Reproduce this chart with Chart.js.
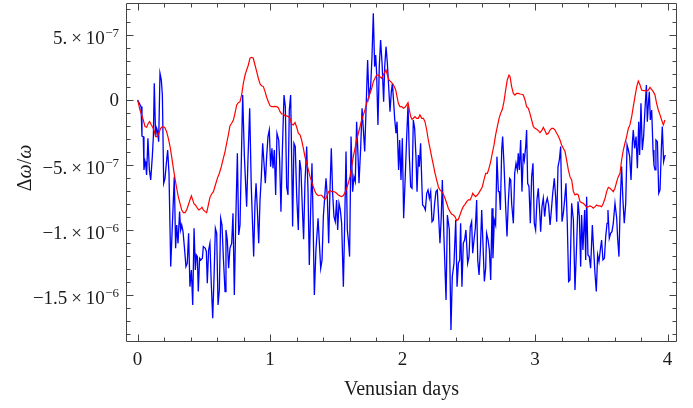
<!DOCTYPE html>
<html lang="en">
<head>
<meta charset="UTF-8">
<title>Frequency shift over Venusian days</title>
<style>
body { margin: 0; background: #fff; }
#wrap { width: 693px; height: 408px; }
</style>
</head>
<body>
<div id="wrap"><canvas id="chart" width="693" height="408"></canvas></div>
<script src="https://cdn.jsdelivr.net/npm/chart.js"></script>
<script>
// values are in units of 1e-7, x in Venusian days
const blueSeries = [
  [0,0],[0.026,-0.51],[0.033,-2.77],[0.043,-2.82],[0.048,-5.38],[0.056,-4.74],[0.063,-5.13],[0.068,-5.77],[0.078,-2.95],[0.089,-5.38],
  [0.099,-6.15],[0.111,-4.36],[0.119,-2.82],[0.126,1.28],[0.136,-2.82],[0.144,-2.18],[0.151,-2.44],[0.159,-3.21],[0.169,2.05],[0.179,1.54],
  [0.187,0.38],[0.197,-6.41],[0.207,-6.03],[0.217,-4.87],[0.227,-3.85],[0.237,-5.64],[0.250,-12.82],[0.265,-8.97],[0.277,-5.90],[0.287,-11.41],
  [0.295,-9.62],[0.305,-11.03],[0.317,-8.59],[0.325,-10.0],[0.333,-9.62],[0.343,-10.13],[0.355,-11.54],[0.365,-12.82],[0.375,-12.56],[0.385,-10.26],
  [0.395,-14.36],[0.406,-13.08],[0.416,-15.77],[0.426,-9.87],[0.436,-13.08],[0.443,-11.92],[0.451,-12.05],[0.458,-14.74],[0.468,-12.18],[0.478,-12.31],
  [0.489,-12.18],[0.496,-11.28],[0.511,-11.41],[0.519,-11.67],[0.526,-14.10],[0.536,-11.54],[0.546,-11.03],[0.556,-14.10],[0.567,-16.79],[0.577,-13.59],
  [0.587,-9.87],[0.597,-10.26],[0.607,-15.77],[0.617,-14.62],[0.627,-9.10],[0.637,-9.62],[0.647,-12.05],[0.660,-14.74],[0.667,-10.0],[0.677,-10.77],
  [0.687,-12.95],[0.697,-11.41],[0.710,-11.03],[0.720,-8.72],[0.730,-15.0],[0.740,-9.74],[0.753,-4.10],[0.763,-10.38],[0.773,-9.62],
  [0.793,0.38],[0.806,-4.36],[0.823,-8.21],[0.833,-4.62],[0.846,-0.64],[0.858,-6.67],[0.876,-12.05],[0.886,-7.95],[0.894,-6.41],[0.904,-8.46],
  [0.914,-11.03],[0.924,-7.69],[0.934,-5.90],[0.944,-3.33],[0.954,-4.87],[0.964,-6.41],[0.974,-4.36],[0.984,-2.82],[0.994,-2.31],[1.004,-5.13],
  [1.014,-3.72],[1.022,-5.26],[1.032,-3.85],[1.042,-7.31],[1.052,-2.56],[1.065,-3.08],[1.072,-4.62],[1.082,-8.59],[1.092,-4.10],[1.105,0.38],
  [1.115,-0.51],[1.125,-6.67],[1.135,-7.31],[1.145,-0.77],[1.155,0.38],[1.163,-4.62],[1.170,-9.74],[1.180,-3.33],[1.190,-3.59],[1.201,-7.44],
  [1.213,-10.0],[1.223,-4.62],[1.233,-5.38],[1.243,-8.21],[1.253,-10.72],[1.263,-6.41],[1.276,-3.59],[1.286,-6.92],[1.296,-12.69],[1.306,-8.46],
  [1.316,-4.87],[1.324,-8.97],[1.334,-15.0],[1.346,-11.54],[1.362,-9.10],[1.372,-11.03],[1.382,-12.95],[1.392,-12.31],[1.402,-8.97],[1.422,-6.03],
  [1.432,-7.44],[1.442,-11.03],[1.452,-6.92],[1.462,-3.72],[1.472,-7.18],[1.482,-8.97],[1.492,-9.36],[1.502,-7.69],[1.510,-10.0],[1.520,-7.95],
  [1.530,-8.46],[1.540,-9.49],[1.553,-14.36],[1.563,-9.49],[1.573,-3.97],[1.583,-10.0],[1.593,-11.03],[1.600,-12.05],
  [1.611,-2.82],[1.623,-7.05],[1.633,-5.90],[1.643,-6.28],[1.653,-1.67],[1.663,-4.10],[1.671,-6.41],[1.684,-3.59],[1.694,-0.64],[1.704,-2.31],
  [1.714,-3.97],[1.724,-0.77],[1.736,3.08],[1.746,0.26],[1.759,1.03],[1.769,3.33],[1.779,6.67],[1.789,2.56],[1.797,3.46],[1.804,2.05],
  [1.814,-1.92],[1.824,2.56],[1.834,4.62],[1.845,2.82],[1.857,-0.13],[1.865,2.56],[1.875,4.10],[1.885,2.82],[1.895,1.03],[1.905,-0.90],
  [1.915,0.64],[1.923,1.28],[1.933,-0.26],[1.940,-1.41],[1.950,-2.56],[1.958,-1.67],[1.970,-5.38],[1.978,-3.08],[1.988,-6.15],[1.998,-2.95],
  [2.008,-9.10],[2.021,-5.64],[2.031,-2.82],[2.041,-0.38],[2.051,-4.36],[2.061,-6.67],[2.071,-6.79],[2.081,-1.54],[2.091,-2.18],[2.101,-4.36],
  [2.109,-7.05],[2.119,-4.23],[2.126,-5.13],[2.136,-3.33],[2.146,-6.67],[2.151,-8.08],[2.162,-8.21],[2.172,-8.46],[2.182,-7.18],[2.192,-6.92],
  [2.202,-7.56],[2.212,-7.05],[2.222,-9.36],[2.232,-9.23],[2.242,-7.95],[2.252,-7.05],[2.262,-6.92],[2.272,-8.97],[2.282,-11.03],[2.292,-8.97],
  [2.300,-6.15],[2.312,-10.51],[2.328,-15.38],[2.338,-8.85],[2.353,-10.0],[2.365,-17.69],[2.375,-13.59],[2.388,-12.56],[2.401,-9.23],[2.411,-14.36],
  [2.421,-12.56],[2.431,-12.31],[2.438,-9.49],[2.448,-14.36],[2.458,-11.03],[2.468,-10.77],[2.478,-10.0],[2.491,-12.56],[2.501,-12.05],[2.511,-9.74],
  [2.521,-9.36],[2.529,-11.79],[2.539,-10.77],[2.549,-9.87],[2.559,-7.69],[2.567,-12.31],[2.577,-13.46],[2.587,-11.54],[2.597,-8.46],[2.607,-11.15],
  [2.617,-13.97],[2.627,-12.95],[2.634,-10.26],[2.645,-10.77],[2.655,-11.54],[2.665,-13.85],[2.675,-8.33],[2.682,-12.18],[2.692,-9.23],[2.702,-9.62],
  [2.712,-4.36],[2.723,-7.05],[2.730,-7.05],[2.738,-8.46],[2.748,-3.85],[2.755,-2.82],[2.765,-4.87],[2.778,-8.21],[2.788,-10.51],[2.798,-7.82],
  [2.808,-6.03],[2.816,-6.15],[2.823,-7.95],[2.836,-9.49],[2.846,-5.64],[2.856,-4.87],[2.866,-5.38],[2.873,-4.10],[2.881,-5.38],[2.891,-3.08],
  [2.901,-7.05],[2.911,-4.10],[2.919,-4.62],[2.929,-3.59],[2.936,-2.31],[2.944,-6.41],[2.954,-6.67],[2.964,-9.49],[2.974,-5.90],[2.984,-4.87],
  [2.994,-9.49],[3.004,-10.0],[3.014,-7.69],[3.024,-6.79],[3.034,-8.46],[3.042,-10.13],[3.052,-8.21],[3.062,-7.56],[3.072,-8.97],[3.082,-7.95],
  [3.092,-7.56],[3.102,-8.08],[3.113,-9.62],[3.123,-8.46],[3.133,-7.18],[3.145,-6.03],[3.155,-7.44],[3.163,-9.36],[3.173,-5.13],[3.183,-4.62],
  [3.193,-3.59],[3.203,-9.36],[3.213,-8.72],[3.223,-7.69],[3.233,-6.41],[3.243,-9.49],[3.253,-13.97],[3.263,-13.85],[3.276,-7.95],[3.289,-9.23],
  [3.301,-14.62],[3.314,-11.03],[3.324,-7.82],[3.334,-8.97],[3.344,-12.82],[3.351,-8.85],[3.361,-11.54],[3.374,-8.46],[3.382,-12.31],[3.389,-7.44],
  [3.399,-11.92],[3.409,-12.05],[3.419,-12.95],[3.432,-9.62],[3.442,-11.54],[3.452,-13.33],[3.462,-14.74],[3.472,-11.92],[3.482,-12.44],[3.492,-11.54],
  [3.502,-10.77],[3.512,-12.31],[3.523,-12.18],[3.533,-10.51],[3.543,-9.49],[3.550,-8.46],[3.560,-10.64],[3.570,-10.26],[3.580,-10.13],[3.590,-9.49],
  [3.603,-7.95],[3.616,-9.10],[3.623,-10.64],[3.633,-12.05],[3.643,-7.69],[3.653,-5.13],[3.663,-7.69],[3.673,-9.49],[3.684,-7.95],[3.694,-3.46],
  [3.704,-3.85],[3.714,-4.36],[3.724,-6.15],[3.734,-3.33],[3.741,-2.31],[3.751,-3.72],[3.762,-2.82],[3.772,-5.26],[3.782,-1.67],[3.789,-4.23],
  [3.799,-0.26],[3.809,-3.85],[3.819,-2.82],[3.829,-0.77],[3.840,1.15],[3.847,-1.67],[3.855,-0.26],[3.862,0.64],[3.870,-1.54],[3.880,-0.77],
  [3.890,-3.85],[3.897,-5.0],[3.905,-5.38],[3.912,-3.08],[3.923,-3.21],[3.933,-7.18],[3.943,-6.92],[3.953,-3.72],[3.960,-2.05],[3.970,-4.74],
  [3.978,-4.36],[3.983,-4.23]
];

const redSeries = [
  [0,0],[0.018,-0.77],[0.031,-1.15],[0.043,-1.54],[0.056,-2.05],[0.068,-2.10],[0.081,-1.79],[0.091,-1.67],[0.104,-1.92],[0.114,-2.10],
  [0.124,-2.31],[0.136,-2.82],[0.149,-2.82],[0.162,-2.51],[0.174,-2.18],[0.187,-2.05],[0.204,-2.10],[0.219,-2.44],[0.232,-2.95],[0.245,-3.59],
  [0.257,-4.36],[0.270,-5.26],[0.282,-6.03],[0.295,-6.79],[0.307,-7.44],[0.320,-7.95],[0.333,-8.46],[0.345,-8.67],[0.358,-8.67],[0.370,-8.46],
  [0.383,-8.08],[0.395,-7.69],[0.406,-7.38],[0.416,-7.69],[0.426,-8.0],[0.438,-8.10],[0.451,-8.33],[0.463,-8.46],[0.476,-8.36],[0.486,-8.26],
  [0.496,-8.46],[0.511,-8.59],[0.521,-8.67],[0.534,-8.08],[0.546,-7.49],[0.559,-7.23],[0.572,-7.05],[0.587,-6.54],[0.602,-6.03],[0.617,-5.64],
  [0.632,-5.13],[0.647,-4.49],[0.660,-3.97],[0.672,-3.33],[0.685,-2.69],[0.697,-2.0],[0.710,-1.79],[0.723,-1.54],[0.735,-1.03],[0.748,-0.38],
  [0.760,-0.21],[0.773,-0.13],[0.785,0.38],[0.798,1.28],[0.811,1.92],[0.823,2.31],[0.836,2.69],[0.848,3.21],[0.861,3.28],[0.873,3.21],
  [0.886,2.69],[0.899,2.18],[0.911,1.67],[0.924,1.23],[0.936,1.10],[0.949,1.03],[0.962,0.64],[0.974,0.21],[0.987,-0.13],[0.999,-0.44],
  [1.012,-0.51],[1.024,-0.51],[1.037,-0.49],[1.050,-0.51],[1.062,-0.59],[1.075,-0.90],[1.087,-1.08],[1.100,-1.08],[1.112,-1.21],[1.125,-1.23],
  [1.138,-1.28],[1.150,-1.41],[1.163,-1.85],[1.175,-1.92],[1.188,-1.74],[1.201,-2.10],[1.213,-2.56],[1.226,-2.69],[1.238,-3.08],[1.251,-3.72],
  [1.263,-4.36],[1.276,-4.87],[1.289,-5.38],[1.301,-5.90],[1.314,-6.28],[1.326,-6.67],[1.339,-7.05],[1.351,-7.26],[1.364,-7.36],[1.377,-7.33],
  [1.389,-7.33],[1.402,-7.49],[1.414,-7.64],[1.422,-7.56],[1.432,-7.31],[1.442,-7.05],[1.452,-6.97],[1.465,-7.05],[1.477,-7.05],[1.490,-7.08],
  [1.502,-7.18],[1.515,-7.31],[1.528,-7.38],[1.540,-7.44],[1.553,-7.36],[1.565,-7.13],[1.578,-6.79],[1.590,-6.41],[1.603,-5.90],[1.616,-5.13],
  [1.628,-4.36],[1.641,-3.72],[1.653,-3.08],[1.666,-2.56],[1.679,-2.05],[1.691,-1.54],[1.704,-1.15],[1.716,-0.77],[1.729,-0.26],[1.741,0.13],
  [1.754,0.51],[1.767,0.90],[1.779,1.41],[1.792,1.67],[1.804,1.92],[1.817,1.92],[1.829,1.79],[1.842,1.67],[1.855,1.92],[1.867,2.18],
  [1.875,2.31],[1.885,1.92],[1.897,1.54],[1.910,1.41],[1.923,1.28],[1.935,1.08],[1.948,0.77],[1.958,0.26],[1.968,-0.26],[1.980,-0.51],
  [1.993,-0.51],[2.006,-0.64],[2.018,-0.56],[2.031,-0.38],[2.041,-0.21],[2.051,-0.77],[2.061,-1.28],[2.071,-1.49],[2.081,-1.41],[2.094,-1.28],
  [2.106,-1.41],[2.119,-1.41],[2.131,-1.15],[2.144,-1.41],[2.157,-1.41],[2.169,-1.67],[2.182,-2.31],[2.194,-3.08],[2.207,-3.72],[2.219,-4.36],
  [2.232,-5.0],[2.245,-5.64],[2.257,-6.15],[2.270,-6.67],[2.282,-6.92],[2.295,-7.05],[2.307,-7.23],[2.320,-7.56],[2.333,-7.95],[2.345,-8.33],
  [2.358,-8.59],[2.370,-8.77],[2.383,-8.85],[2.395,-8.97],[2.408,-9.28],[2.421,-9.18],[2.433,-8.85],[2.446,-8.46],[2.458,-8.21],[2.471,-8.03],
  [2.484,-7.82],[2.496,-7.69],[2.509,-7.69],[2.521,-7.44],[2.529,-7.18],[2.539,-7.31],[2.551,-7.44],[2.564,-7.31],[2.577,-7.13],[2.589,-6.92],
  [2.602,-6.67],[2.614,-6.15],[2.627,-5.64],[2.640,-5.64],[2.652,-5.26],[2.665,-4.74],[2.677,-4.10],[2.690,-3.46],[2.702,-2.69],[2.715,-2.05],
  [2.728,-1.41],[2.740,-1.03],[2.753,-0.72],[2.765,-0.13],[2.778,0.77],[2.790,1.54],[2.803,1.92],[2.811,1.79],[2.823,1.03],[2.836,0.51],
  [2.848,0.38],[2.861,0.51],[2.873,0.51],[2.886,0.46],[2.899,0.44],[2.911,0.38],[2.924,0],[2.936,-0.51],[2.949,-0.64],[2.961,-1.03],
  [2.974,-1.54],[2.987,-2.05],[2.999,-2.18],[3.012,-2.26],[3.024,-2.36],[3.037,-2.51],[3.050,-2.36],[3.062,-2.10],[3.075,-2.36],[3.087,-2.64],
  [3.100,-2.56],[3.113,-2.31],[3.125,-2.18],[3.138,-2.18],[3.150,-2.31],[3.163,-2.56],[3.175,-2.77],[3.188,-3.08],[3.200,-3.46],[3.213,-3.72],
  [3.226,-3.97],[3.238,-4.62],[3.251,-5.38],[3.263,-5.90],[3.276,-6.15],[3.289,-7.05],[3.301,-7.31],[3.314,-7.23],[3.326,-7.31],[3.339,-7.82],
  [3.351,-7.90],[3.364,-7.95],[3.376,-8.08],[3.389,-8.26],[3.402,-8.21],[3.414,-8.15],[3.427,-8.21],[3.439,-8.33],[3.452,-8.21],[3.465,-8.08],
  [3.477,-8.15],[3.490,-8.15],[3.502,-8.21],[3.515,-7.95],[3.528,-7.56],[3.540,-7.05],[3.553,-6.72],[3.565,-6.79],[3.578,-6.92],[3.590,-7.05],
  [3.603,-6.79],[3.616,-6.28],[3.628,-5.90],[3.641,-5.64],[3.653,-4.62],[3.666,-3.85],[3.678,-3.33],[3.691,-2.82],[3.704,-2.18],[3.716,-1.92],
  [3.729,-1.28],[3.741,-0.51],[3.754,0.26],[3.767,1.03],[3.779,1.46],[3.792,1.15],[3.804,0.77],[3.817,0.72],[3.829,0.72],[3.842,0.69],
  [3.855,0.77],[3.867,0.97],[3.879,0.82],[3.892,0.64],[3.905,0.38],[3.917,-0.26],[3.930,-0.77],[3.943,-1.15],[3.955,-1.54],[3.968,-1.92],
  [3.980,-1.54]
];

// axis ticks and labels
const xTickValues = [0, 1, 2, 3, 4];
const yTickValues = [5, 0, -5, -10, -15];
const yTickMantissa = ['5.\u2009×\u200910', '0', '−5.\u2009×\u200910', '−1.\u2009×\u200910', '−1.5\u2009×\u200910'];
const yTickExponent = ['−7', '', '−7', '−6', '−6'];

const serif = '"Liberation Serif", "Times New Roman", serif';
const frameColor = '#444';
const textColor = '#1a1a1a';

// Mathematica-style box frame with inward ticks on all four sides
const framePlugin = {
    id: 'frame',
    afterDraw(chart) {
        const { ctx, chartArea: area, scales } = chart;
        const xs = scales.x, ys = scales.y;
        const L = Math.round(area.left) + 0.5;
        const R = Math.round(area.right) - 0.5;
        const T = Math.round(area.top) + 0.5;
        const B = Math.round(area.bottom) - 0.5;

        ctx.save();
        ctx.strokeStyle = frameColor;
        ctx.lineWidth = 1;
        ctx.beginPath();
        ctx.rect(L, T, R - L, B - T);

        // x ticks every 0.2 day, major on whole days
        for (let i = 0; i <= 20; i++) {
            const p = Math.round(xs.getPixelForValue(i / 5)) + 0.5;
            const len = i % 5 === 0 ? 7 : 4;
            ctx.moveTo(p, B); ctx.lineTo(p, B - len);
            ctx.moveTo(p, T); ctx.lineTo(p, T + len);
        }
        // y ticks every 1e-7, major every 5e-7
        for (let i = -18; i <= 7; i++) {
            const p = Math.round(ys.getPixelForValue(i)) + 0.5;
            const len = i % 5 === 0 ? 7 : 4;
            ctx.moveTo(L, p); ctx.lineTo(L + len, p);
            ctx.moveTo(R, p); ctx.lineTo(R - len, p);
        }
        ctx.stroke();

        ctx.fillStyle = textColor;

        // x tick labels
        ctx.font = '19px ' + serif;
        ctx.textAlign = 'center';
        ctx.textBaseline = 'alphabetic';
        xTickValues.forEach(v => {
            ctx.fillText(String(v), xs.getPixelForValue(v), 365);
        });

        // y tick labels with superscript exponents
        yTickValues.forEach((v, i) => {
            const py = ys.getPixelForValue(v);
            ctx.textAlign = 'right';
            if (!yTickExponent[i]) {
                ctx.font = '19px ' + serif;
                ctx.fillText(yTickMantissa[i], 119, py + 6.5);
                return;
            }
            ctx.font = '13px ' + serif;
            const expW = ctx.measureText(yTickExponent[i]).width;
            ctx.fillText(yTickExponent[i], 119, py + 2);
            ctx.font = '19px ' + serif;
            ctx.fillText(yTickMantissa[i], 119 - expW - 0.5, py + 9);
        });

        // axis titles
        ctx.font = '20px ' + serif;
        ctx.textAlign = 'center';
        ctx.fillText('Venusian days', (area.left + area.right) / 2, 395);

        ctx.translate(31, 168);
        ctx.rotate(-Math.PI / 2);
        ctx.textAlign = 'left';
        const parts = [['Δ', ''], ['ω', 'italic '], ['/', ''], ['ω', 'italic ']];
        let total = 0;
        parts.forEach(p => { ctx.font = p[1] + '20px ' + serif; total += ctx.measureText(p[0]).width; });
        let cx = -total / 2;
        parts.forEach(p => {
            ctx.font = p[1] + '20px ' + serif;
            ctx.fillText(p[0], cx, 0);
            cx += ctx.measureText(p[0]).width;
        });
        ctx.restore();
    }
};

const toPoints = s => s.map(p => ({ x: p[0], y: p[1] }));

new Chart(document.getElementById('chart'), {
    type: 'line',
    data: {
        datasets: [
            {
                label: 'smoothed',
                data: toPoints(redSeries),
                borderColor: '#ff0000',
                borderWidth: 1.2,
                pointRadius: 0,
                tension: 0
            },
            {
                label: 'raw',
                data: toPoints(blueSeries),
                borderColor: '#0000ff',
                borderWidth: 1.3,
                pointRadius: 0,
                tension: 0
            }
        ]
    },
    options: {
        responsive: false,
        animation: false,
        devicePixelRatio: 1,
        layout: { padding: { top: 3, right: 16, left: 0, bottom: 0 } },
        plugins: {
            legend: { display: false },
            tooltip: { enabled: false }
        },
        scales: {
            x: {
                type: 'linear',
                min: -0.0875,
                max: 4.071,
                grid: { display: false, drawTicks: false },
                border: { display: false },
                ticks: { display: false },
                afterFit: s => { s.height = 66; }
            },
            y: {
                type: 'linear',
                min: -18.62,
                max: 7.46,
                grid: { display: false, drawTicks: false },
                border: { display: false },
                ticks: { display: false },
                afterFit: s => { s.width = 126; }
            }
        }
    },
    plugins: [framePlugin]
});
</script>
</body>
</html>
